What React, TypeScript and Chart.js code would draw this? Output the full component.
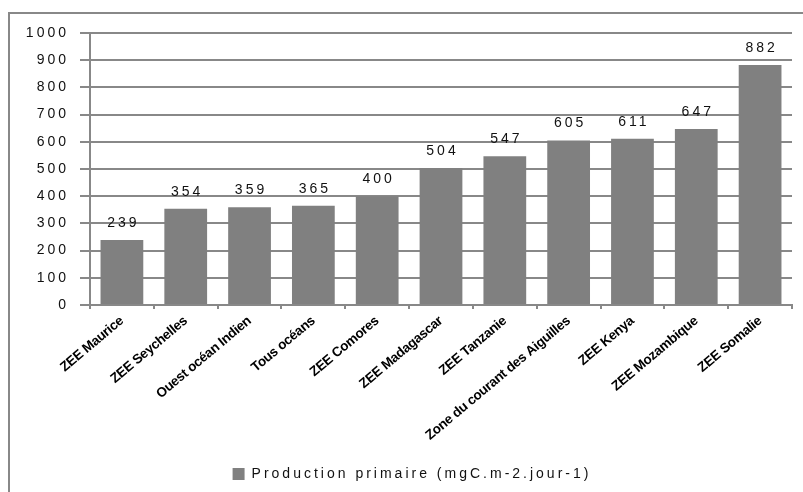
import React, { useEffect, useRef } from "react";
import { Chart, registerables } from "chart.js";

Chart.register(...registerables);

const categories = [
  "ZEE Maurice",
  "ZEE Seychelles",
  "Ouest océan Indien",
  "Tous océans",
  "ZEE Comores",
  "ZEE Madagascar",
  "ZEE Tanzanie",
  "Zone du courant des Aiguilles",
  "ZEE Kenya",
  "ZEE Mozambique",
  "ZEE Somalie",
];
const production = [239, 354, 359, 365, 400, 504, 547, 605, 611, 647, 882];
const seriesLabel = "Production primaire (mgC.m-2.jour-1)";
const yMin = 0;
const yMax = 1000;
const yStep = 100;

const GRID = "#888888";
const BAR = "#808080";
const TEXT = "#111";
const SPACING = "3px";

// Wide letter spacing for the plain text (values, y ticks, legend),
// a tighter one for the bold category labels.
const spacingPlugin = {
  id: "spacing",
  beforeUpdate(chart: any) {
    chart.ctx.letterSpacing = SPACING;
  },
  afterLayout(chart: any) {
    const x = chart.scales.x;
    if (x && !x.__wrapped) {
      const orig = x.drawLabels;
      x.drawLabels = function (area: any) {
        const c = this.ctx;
        c.save();
        c.letterSpacing = "-0.3px";
        orig.call(this, area);
        c.restore();
      };
      x.__wrapped = true;
    }
    const lg = chart.legend;
    if (lg && !lg.__wrapped) {
      const origDraw = lg.draw;
      lg.draw = function (...args: any[]) {
        const c = this.ctx;
        c.save();
        c.translate(16, 0);
        origDraw.apply(this, args);
        c.restore();
      };
      lg.__wrapped = true;
    }
  },
  beforeDraw(chart: any) {
    chart.ctx.letterSpacing = SPACING;
  },
};

// Value printed above each bar.
const valueLabels = {
  id: "valueLabels",
  afterDatasetsDraw(chart: any) {
    const ctx = chart.ctx;
    const meta = chart.getDatasetMeta(0);
    const data = chart.data.datasets[0].data as number[];
    ctx.save();
    ctx.letterSpacing = SPACING;
    ctx.font = "14px 'Liberation Sans'";
    ctx.fillStyle = TEXT;
    ctx.textAlign = "center";
    ctx.textBaseline = "bottom";
    meta.data.forEach((bar: any, i: number) => {
      ctx.fillText(String(data[i]), bar.x + 1.5, bar.y - 10);
    });
    ctx.restore();
  },
};

export default function App() {
  const canvasRef = useRef<HTMLCanvasElement | null>(null);

  useEffect(() => {
    if (!canvasRef.current) return;
    const chart = new Chart(canvasRef.current, {
      type: "bar",
      data: {
        labels: categories,
        datasets: [
          {
            label: seriesLabel,
            data: production,
            backgroundColor: BAR,
            borderWidth: 0,
            categoryPercentage: 1,
            barPercentage: 0.67,
          },
        ],
      },
      options: {
        animation: false,
        responsive: false,
        maintainAspectRatio: false,
        layout: { padding: { top: 33, left: 0, right: 11, bottom: 1 } },
        plugins: {
          tooltip: { enabled: false },
          legend: {
            position: "bottom",
            labels: {
              boxWidth: 12,
              boxHeight: 12,
              padding: 10,
              color: TEXT,
              font: { family: "'Liberation Sans'", size: 14 },
            },
          },
        },
        scales: {
          x: {
            grid: {
              display: true,
              drawOnChartArea: false,
              drawTicks: true,
              tickLength: 4,
              color: GRID,
              lineWidth: 2,
            },
            border: { display: true, color: GRID, width: 2 },
            ticks: {
              autoSkip: false,
              minRotation: 40,
              maxRotation: 40,
              padding: 4,
              color: "#000",
              font: { family: "'Liberation Sans'", size: 13.5, weight: "bold" },
            },
            afterFit(scale: any) {
              scale.height = 152;
            },
          },
          y: {
            min: yMin,
            max: yMax,
            grid: { color: GRID, lineWidth: 2, tickLength: 10 },
            border: { display: true, color: GRID, width: 2 },
            ticks: {
              stepSize: yStep,
              padding: 11,
              color: TEXT,
              font: { family: "'Liberation Sans'", size: 14 },
              callback: (v: any) => String(v),
            },
            afterFit(scale: any) {
              scale.width = 90;
            },
          },
        },
      },
      plugins: [spacingPlugin, valueLabels],
    });
    return () => chart.destroy();
  }, []);

  return (
    <div
      style={{
        position: "fixed",
        left: 0,
        top: 0,
        width: 803,
        height: 492,
        overflow: "hidden",
        background: "#fff",
      }}
    >
      <div
        style={{
          position: "absolute",
          left: 8,
          top: 12,
          width: 830,
          height: 520,
          border: `2px solid ${GRID}`,
        }}
      />
      <canvas
        ref={canvasRef}
        width={803}
        height={492}
        style={{ position: "absolute", left: 0, top: 0, width: 803, height: 492 }}
      />
    </div>
  );
}
